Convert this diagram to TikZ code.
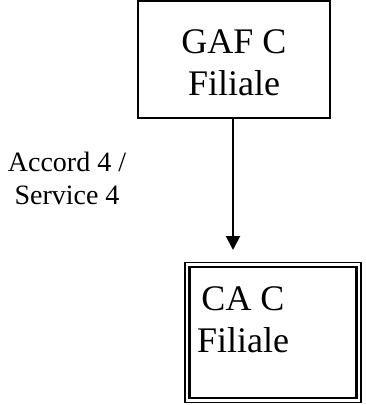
\documentclass[tikz,border=0pt]{standalone}
\usepackage{fontspec}
\setmainfont{Liberation Serif}
\usetikzlibrary{arrows.meta}
\tikzset{
  framebox/.style={draw, line width=1.5pt, minimum width=192pt, minimum height=117pt, inner sep=0pt},
  outerframe/.style={draw, line width=1.5pt, minimum width=176pt, minimum height=140pt, inner sep=0pt},
  innerframe/.style={draw, line width=2.5pt, minimum width=167pt, minimum height=131pt, inner sep=0pt},
  boxtext/.style={align=center, font=\fontsize{36}{42}\selectfont, inner sep=0pt},
  edgelabel/.style={align=center, font=\fontsize{28}{33}\selectfont, inner sep=0pt},
  link/.style={line width=2pt, -{Triangle[width=14pt,length=14pt]}},
}
\begin{document}
\begin{tikzpicture}[x=1pt,y=-1pt]
\useasboundingbox (0,0) rectangle (366,405);
% upper unit
\node[framebox] (gaf) at (234,59.5) {};
\node[boxtext] (gaftext) at (234,63) {GAF C\\Filiale};
% lower unit with a double frame
\node[outerframe] (ca) at (273,332.5) {};
\node[innerframe] (cainner) at (273,332.5) {};
\node[boxtext] (catext) at (243,320) {CA C\\Filiale};
% link and its label
\coordinate (tip) at (233,250);
\draw[link] (tip |- gaf.south) -- (tip);
\node[edgelabel] (lbl) at (67,178) {Accord 4 /\\Service 4};
\end{tikzpicture}
\end{document}
